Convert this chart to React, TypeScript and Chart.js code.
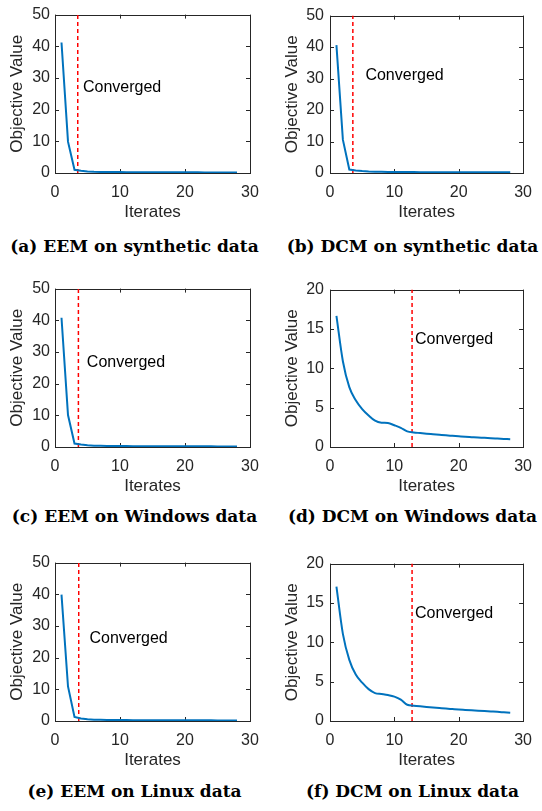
import React, { useEffect, useRef } from "react";
import { Chart, registerables } from "chart.js";

Chart.register(...registerables);

// ---------- data ----------
const ITERATES = [1, 2, 3, 4, 5, 6, 7, 8, 9, 10, 11, 12, 13, 14, 15, 16, 17, 18, 19, 20, 21, 22, 23, 24, 25, 26, 27, 28];

const EEM_SYNTHETIC = [41.2, 9.9, 1.0, 0.7, 0.5, 0.4, 0.35, 0.32, 0.3, 0.28, 0.27, 0.26, 0.25, 0.24, 0.23, 0.22, 0.22, 0.21, 0.21, 0.2, 0.2, 0.2, 0.19, 0.19, 0.19, 0.18, 0.18, 0.18];
const DCM_SYNTHETIC = [40.6, 10.6, 1.1, 0.8, 0.6, 0.45, 0.4, 0.36, 0.33, 0.31, 0.3, 0.29, 0.28, 0.27, 0.26, 0.25, 0.25, 0.24, 0.24, 0.23, 0.23, 0.22, 0.22, 0.22, 0.21, 0.21, 0.21, 0.2];
const EEM_WINDOWS = [40.8, 10.1, 1.1, 0.8, 0.55, 0.42, 0.36, 0.33, 0.31, 0.29, 0.28, 0.27, 0.26, 0.25, 0.24, 0.23, 0.23, 0.22, 0.22, 0.21, 0.21, 0.2, 0.2, 0.2, 0.19, 0.19, 0.19, 0.18];
const DCM_WINDOWS = [16.66, 10.9, 7.6, 5.94, 4.82, 4.0, 3.34, 3.09, 3.05, 2.76, 2.43, 1.98, 1.85, 1.77, 1.69, 1.62, 1.55, 1.48, 1.42, 1.36, 1.3, 1.25, 1.2, 1.16, 1.11, 1.07, 1.03, 0.99];
const EEM_LINUX = [39.9, 10.9, 1.3, 0.8, 0.55, 0.42, 0.36, 0.33, 0.31, 0.29, 0.28, 0.27, 0.26, 0.25, 0.24, 0.23, 0.23, 0.22, 0.22, 0.21, 0.21, 0.2, 0.2, 0.2, 0.19, 0.19, 0.19, 0.18];
const DCM_LINUX = [17.06, 11.07, 7.77, 5.9, 4.87, 4.05, 3.55, 3.43, 3.3, 3.1, 2.72, 2.06, 1.94, 1.86, 1.79, 1.72, 1.65, 1.58, 1.52, 1.46, 1.41, 1.36, 1.31, 1.26, 1.21, 1.16, 1.1, 1.04];

const X_TICKS = [0, 10, 20, 30];
const Y_TICKS_WIDE = [0, 10, 20, 30, 40, 50];
const Y_TICKS_NARROW = [0, 5, 10, 15, 20];

const CONVERGED_AT = [3.5, 3.55, 3.6, 12.75, 3.65, 12.75];
const LABEL_X = [4.3, 5.5, 4.9, 13.2, 5.3, 13.2];
const LABEL_Y = [27.1, 30.9, 26.6, 13.7, 26.0, 13.7];

const CAPTIONS = [
  "(a) EEM on synthetic data",
  "(b) DCM on synthetic data",
  "(c) EEM on Windows data",
  "(d) DCM on Windows data",
  "(e) EEM on Linux data",
  "(f) DCM on Linux data",
];

const SERIES = [EEM_SYNTHETIC, DCM_SYNTHETIC, EEM_WINDOWS, DCM_WINDOWS, EEM_LINUX, DCM_LINUX];
const NARROW_AXIS = [false, false, false, true, false, true];

// ---------- layout ----------
const CANVAS_W = 271;
const CANVAS_H = 228;
const ROW_TOPS = [0, 274, 548];
const COL_LEFTS = [0, 271];
const PLOT_LEFT = [55, 59];
const PLOT_RIGHT_PAD = [21, 17];
const PLOT_TOP = 11;
const PLOT_BOTTOM = 173;
const CAPTION_CENTER_Y = [245.5, 515.5, 790.5];
const CAPTION_CENTER_X = [134.5, 412.5];

const TEXT = "#262626";
const FONT = "'Liberation Sans', Arial, sans-serif";

const framePlugin = {
  id: "matlabFrame",
  beforeDatasetsDraw(chart: any) {
    const { ctx, chartArea: a, scales } = chart;
    const L = 4;
    ctx.save();
    ctx.strokeStyle = TEXT;
    ctx.lineWidth = 1;
    ctx.beginPath();
    for (const t of scales.x.ticks) {
      const px = Math.round(scales.x.getPixelForValue(t.value)) + 0.5;
      ctx.moveTo(px, a.bottom);
      ctx.lineTo(px, a.bottom - L);
      ctx.moveTo(px, a.top);
      ctx.lineTo(px, a.top + L);
    }
    for (const t of scales.y.ticks) {
      const py = Math.round(scales.y.getPixelForValue(t.value)) + 0.5;
      ctx.moveTo(a.left, py);
      ctx.lineTo(a.left + L, py);
      ctx.moveTo(a.right, py);
      ctx.lineTo(a.right - L, py);
    }
    ctx.stroke();
    ctx.strokeRect(Math.round(a.left) + 0.5, Math.round(a.top) + 0.5, Math.round(a.right - a.left), Math.round(a.bottom - a.top));
    ctx.restore();
  },
  afterDatasetsDraw(chart: any) {
    const opts = chart.options.plugins.matlabFrame;
    if (!opts) return;
    const { ctx, scales } = chart;
    ctx.save();
    ctx.fillStyle = "#000";
    ctx.font = `16px ${FONT}`;
    ctx.textAlign = "left";
    ctx.textBaseline = "middle";
    ctx.fillText(opts.text, scales.x.getPixelForValue(opts.x), scales.y.getPixelForValue(opts.y));
    ctx.restore();
  },
};

function Panel({ index }: { index: number }) {
  const ref = useRef<HTMLCanvasElement>(null);
  const col = index % 2;
  const row = Math.floor(index / 2);
  useEffect(() => {
    if (!ref.current) return;
    const narrow = NARROW_AXIS[index];
    const yTicks = narrow ? Y_TICKS_NARROW : Y_TICKS_WIDE;
    const yMax = yTicks[yTicks.length - 1];
    const plotLeft = PLOT_LEFT[col];
    const chart = new Chart(ref.current, {
      type: "line",
      data: {
        datasets: [
          {
            data: ITERATES.map((x, i) => ({ x, y: SERIES[index][i] })),
            borderColor: "#0072BD",
            borderWidth: 2,
            pointRadius: 0,
            cubicInterpolationMode: narrow ? "monotone" : "default",
            tension: 0,
          } as any,
          {
            data: [
              { x: CONVERGED_AT[index], y: 0 },
              { x: CONVERGED_AT[index], y: yMax },
            ],
            borderColor: "#FF0000",
            borderWidth: 1.5,
            borderDash: [4, 3],
            pointRadius: 0,
          },
        ],
      },
      options: {
        responsive: false,
        animation: false,
        devicePixelRatio: 1,
        layout: {
          padding: { top: PLOT_TOP, right: PLOT_RIGHT_PAD[col], left: 0, bottom: 0 },
        },
        plugins: {
          legend: { display: false },
          tooltip: { enabled: false },
          matlabFrame: { text: "Converged", x: LABEL_X[index], y: LABEL_Y[index] },
        } as any,
        scales: {
          x: {
            type: "linear",
            min: 0,
            max: 30,
            afterBuildTicks: (s: any) => {
              s.ticks = X_TICKS.map((v) => ({ value: v }));
            },
            afterFit: (s: any) => {
              s.height = CANVAS_H - PLOT_BOTTOM;
            },
            grid: { display: false, drawTicks: false },
            border: { display: false },
            ticks: {
              color: TEXT,
              font: { family: FONT, size: 16 },
              padding: 10,
              maxRotation: 0,
            },
            title: {
              display: true,
              text: "Iterates",
              color: TEXT,
              font: { family: FONT, size: 17 },
              padding: { top: 0, bottom: 5.5 },
            },
          },
          y: {
            type: "linear",
            min: 0,
            max: yMax,
            afterBuildTicks: (s: any) => {
              s.ticks = yTicks.map((v) => ({ value: v }));
            },
            afterFit: (s: any) => {
              s.width = plotLeft;
            },
            grid: { display: false, drawTicks: false },
            border: { display: false },
            ticks: {
              color: TEXT,
              font: { family: FONT, size: 16 },
              padding: col === 0 ? 5 : 6,
            },
            title: {
              display: true,
              text: "Objective Value",
              color: TEXT,
              font: { family: FONT, size: 17 },
              padding: { top: plotLeft - 38 - 10.2, bottom: 0 },
            },
          },
        },
      },
      plugins: [framePlugin as any],
    });
    return () => chart.destroy();
  }, [index, col]);

  return (
    <>
      <div
        style={{
          position: "absolute",
          left: COL_LEFTS[col],
          top: ROW_TOPS[row],
          width: CANVAS_W,
          height: CANVAS_H,
        }}
      >
        <canvas ref={ref} width={CANVAS_W} height={CANVAS_H} style={{ width: CANVAS_W, height: CANVAS_H }} />
      </div>
      <div
        style={{
          position: "absolute",
          left: CAPTION_CENTER_X[col] - 140,
          width: 280,
          top: CAPTION_CENTER_Y[row] - 10,
          height: 20,
          lineHeight: "20px",
          textAlign: "center",
          fontFamily: "'DejaVu Serif', serif",
          fontWeight: 700,
          fontSize: 17,
          color: "#000",
          whiteSpace: "nowrap",
        }}
      >
        {CAPTIONS[index]}
      </div>
    </>
  );
}

export default function App() {
  return (
    <div style={{ position: "absolute", left: 0, top: 0, width: 542, height: 811, background: "#fff", overflow: "hidden" }}>
      {[0, 1, 2, 3, 4, 5].map((i) => (
        <Panel key={i} index={i} />
      ))}
    </div>
  );
}
